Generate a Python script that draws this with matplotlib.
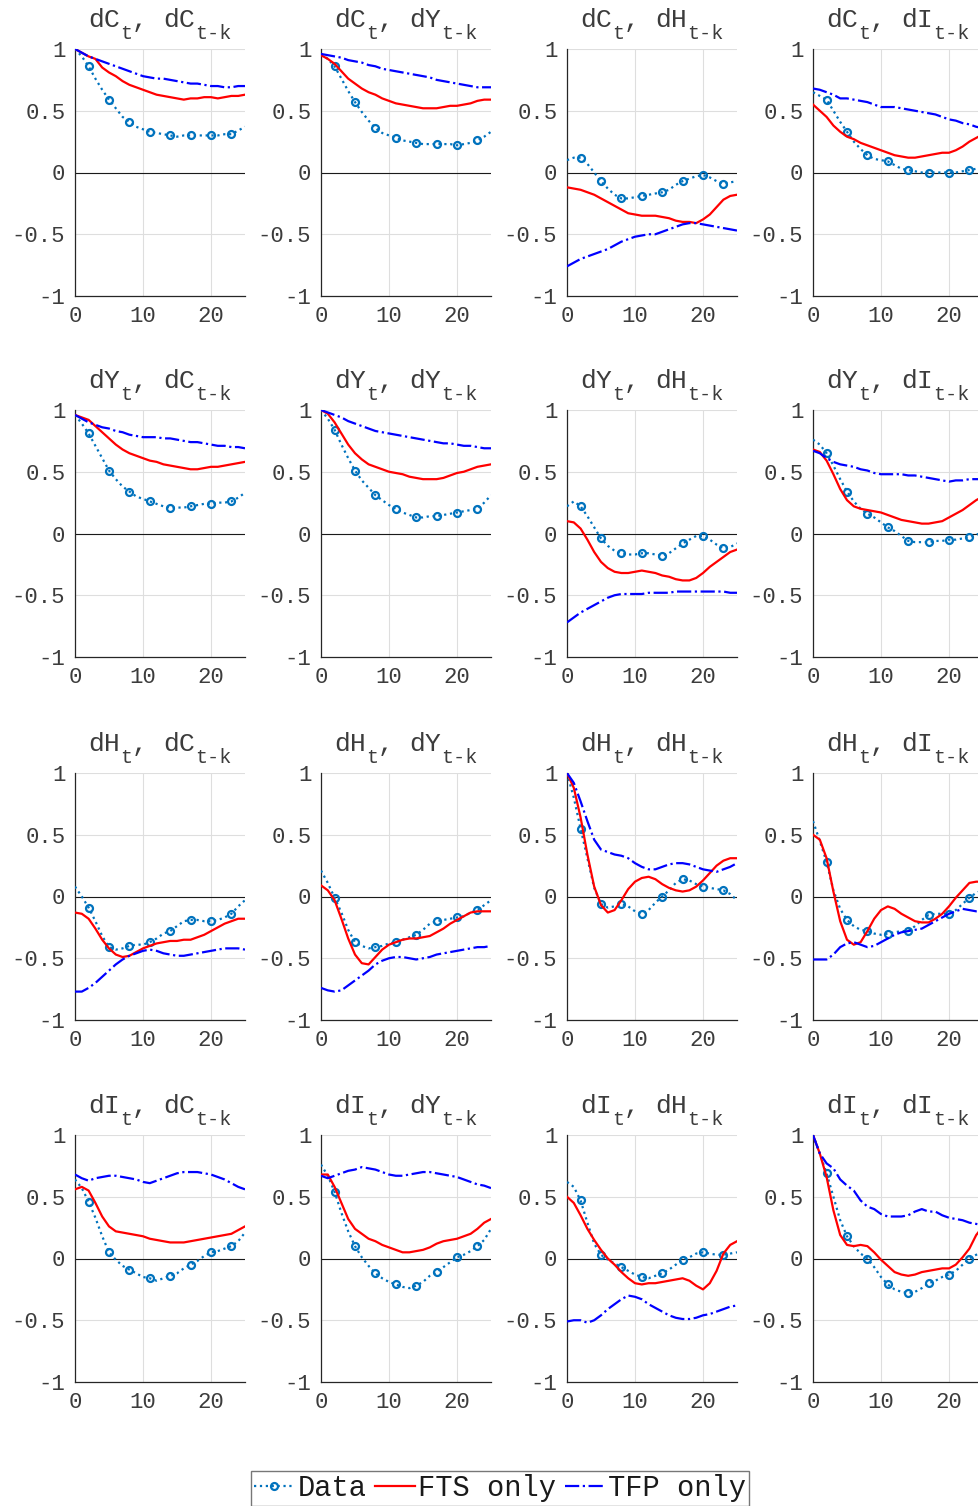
import numpy as np
import matplotlib.pyplot as plt

# ----------------------------------------------------
# DATA (cross-correlations, lags 0..25)
# ----------------------------------------------------
lags = np.arange(26)
var_names = ["C", "Y", "H", "I"]
series_labels = ["Data", "FTS only", "TFP only"]

# row 1: dC_t
data_CC = [1.0, 0.94, 0.86, 0.76, 0.67, 0.59, 0.52, 0.45, 0.41, 0.37, 0.35, 0.33, 0.32, 0.31, 0.30, 0.29, 0.30, 0.30, 0.30, 0.30, 0.30, 0.30, 0.31, 0.31, 0.34, 0.37]
fts_CC = [1.0, 0.97, 0.94, 0.92, 0.85, 0.81, 0.78, 0.74, 0.71, 0.69, 0.67, 0.65, 0.63, 0.62, 0.61, 0.60, 0.59, 0.60, 0.60, 0.61, 0.61, 0.60, 0.61, 0.62, 0.62, 0.63]
tfp_CC = [1.0, 0.97, 0.94, 0.92, 0.90, 0.88, 0.86, 0.84, 0.82, 0.80, 0.78, 0.77, 0.76, 0.76, 0.75, 0.74, 0.73, 0.72, 0.72, 0.71, 0.70, 0.70, 0.69, 0.69, 0.70, 0.70]

data_CY = [0.96, 0.92, 0.86, 0.76, 0.66, 0.57, 0.49, 0.42, 0.36, 0.32, 0.30, 0.28, 0.26, 0.25, 0.24, 0.23, 0.23, 0.23, 0.23, 0.23, 0.22, 0.23, 0.24, 0.26, 0.29, 0.33]
fts_CY = [0.95, 0.92, 0.88, 0.82, 0.76, 0.72, 0.68, 0.65, 0.63, 0.60, 0.58, 0.56, 0.55, 0.54, 0.53, 0.52, 0.52, 0.52, 0.53, 0.54, 0.54, 0.55, 0.56, 0.58, 0.59, 0.59]
tfp_CY = [0.96, 0.95, 0.94, 0.93, 0.91, 0.90, 0.89, 0.87, 0.86, 0.84, 0.83, 0.82, 0.81, 0.80, 0.79, 0.78, 0.77, 0.75, 0.74, 0.73, 0.72, 0.71, 0.70, 0.69, 0.69, 0.69]

data_CH = [0.10, 0.12, 0.12, 0.07, 0.00, -0.07, -0.13, -0.18, -0.21, -0.21, -0.20, -0.19, -0.18, -0.17, -0.16, -0.14, -0.10, -0.07, -0.05, -0.03, -0.02, -0.04, -0.07, -0.09, -0.08, -0.07]
fts_CH = [-0.12, -0.13, -0.14, -0.16, -0.18, -0.21, -0.24, -0.27, -0.30, -0.33, -0.34, -0.35, -0.35, -0.35, -0.36, -0.37, -0.39, -0.40, -0.40, -0.41, -0.38, -0.34, -0.28, -0.22, -0.19, -0.18]
tfp_CH = [-0.76, -0.73, -0.70, -0.68, -0.66, -0.64, -0.62, -0.59, -0.56, -0.54, -0.52, -0.51, -0.50, -0.50, -0.48, -0.46, -0.44, -0.42, -0.41, -0.41, -0.42, -0.43, -0.44, -0.45, -0.46, -0.47]

data_CI = [0.65, 0.62, 0.59, 0.50, 0.41, 0.33, 0.25, 0.19, 0.14, 0.11, 0.10, 0.09, 0.06, 0.03, 0.02, 0.01, 0.00, 0.00, 0.00, 0.00, 0.00, 0.00, 0.01, 0.02, 0.03, 0.04]
fts_CI = [0.55, 0.50, 0.45, 0.38, 0.33, 0.29, 0.27, 0.24, 0.22, 0.20, 0.18, 0.16, 0.14, 0.13, 0.12, 0.12, 0.13, 0.14, 0.15, 0.16, 0.16, 0.18, 0.21, 0.25, 0.28, 0.31]
tfp_CI = [0.68, 0.67, 0.65, 0.63, 0.60, 0.60, 0.59, 0.58, 0.57, 0.55, 0.53, 0.53, 0.53, 0.52, 0.51, 0.50, 0.49, 0.48, 0.47, 0.45, 0.43, 0.42, 0.40, 0.39, 0.37, 0.36]

# row 2: dY_t
data_YC = [0.96, 0.89, 0.81, 0.71, 0.61, 0.51, 0.44, 0.38, 0.34, 0.30, 0.28, 0.26, 0.24, 0.22, 0.21, 0.21, 0.21, 0.22, 0.23, 0.24, 0.24, 0.25, 0.25, 0.26, 0.29, 0.33]
fts_YC = [0.96, 0.94, 0.92, 0.87, 0.82, 0.77, 0.72, 0.68, 0.65, 0.63, 0.61, 0.59, 0.58, 0.56, 0.55, 0.54, 0.53, 0.52, 0.52, 0.53, 0.54, 0.54, 0.55, 0.56, 0.57, 0.58]
tfp_YC = [0.96, 0.93, 0.90, 0.88, 0.86, 0.85, 0.83, 0.82, 0.80, 0.79, 0.78, 0.78, 0.78, 0.77, 0.77, 0.76, 0.75, 0.74, 0.74, 0.73, 0.72, 0.71, 0.71, 0.70, 0.70, 0.69]

data_YY = [1.0, 0.93, 0.84, 0.72, 0.61, 0.51, 0.43, 0.37, 0.31, 0.27, 0.23, 0.20, 0.17, 0.15, 0.13, 0.13, 0.14, 0.14, 0.15, 0.16, 0.17, 0.18, 0.19, 0.20, 0.25, 0.31]
fts_YY = [1.0, 0.97, 0.90, 0.81, 0.72, 0.65, 0.60, 0.56, 0.54, 0.52, 0.50, 0.49, 0.48, 0.46, 0.45, 0.44, 0.44, 0.44, 0.45, 0.47, 0.49, 0.50, 0.52, 0.54, 0.55, 0.56]
tfp_YY = [1.0, 0.98, 0.96, 0.94, 0.91, 0.89, 0.87, 0.85, 0.83, 0.82, 0.81, 0.80, 0.79, 0.78, 0.77, 0.76, 0.75, 0.74, 0.73, 0.73, 0.72, 0.71, 0.71, 0.70, 0.69, 0.69]

data_YH = [0.22, 0.26, 0.22, 0.14, 0.05, -0.04, -0.10, -0.14, -0.16, -0.17, -0.17, -0.16, -0.16, -0.17, -0.18, -0.16, -0.12, -0.08, -0.05, -0.02, -0.02, -0.05, -0.09, -0.12, -0.11, -0.08]
fts_YH = [0.10, 0.09, 0.04, -0.05, -0.15, -0.23, -0.28, -0.31, -0.32, -0.32, -0.31, -0.30, -0.31, -0.32, -0.34, -0.35, -0.37, -0.38, -0.38, -0.36, -0.32, -0.27, -0.23, -0.19, -0.15, -0.13]
tfp_YH = [-0.72, -0.68, -0.64, -0.61, -0.58, -0.55, -0.52, -0.50, -0.49, -0.49, -0.49, -0.49, -0.48, -0.48, -0.48, -0.48, -0.47, -0.47, -0.47, -0.47, -0.47, -0.47, -0.47, -0.47, -0.48, -0.48]

data_YI = [0.76, 0.72, 0.65, 0.55, 0.44, 0.34, 0.26, 0.20, 0.16, 0.13, 0.09, 0.05, 0.02, -0.02, -0.06, -0.07, -0.07, -0.07, -0.06, -0.06, -0.05, -0.05, -0.04, -0.03, -0.01, 0.01]
fts_YI = [0.68, 0.66, 0.59, 0.48, 0.36, 0.27, 0.22, 0.20, 0.19, 0.18, 0.17, 0.15, 0.13, 0.11, 0.10, 0.09, 0.08, 0.08, 0.09, 0.10, 0.13, 0.16, 0.19, 0.23, 0.27, 0.30]
tfp_YI = [0.67, 0.65, 0.61, 0.58, 0.56, 0.55, 0.54, 0.52, 0.51, 0.49, 0.48, 0.48, 0.48, 0.48, 0.47, 0.47, 0.46, 0.45, 0.44, 0.43, 0.42, 0.43, 0.43, 0.44, 0.44, 0.44]

# row 3: dH_t
data_HC = [0.08, 0.00, -0.09, -0.20, -0.32, -0.41, -0.43, -0.42, -0.40, -0.39, -0.39, -0.37, -0.34, -0.30, -0.28, -0.24, -0.20, -0.19, -0.19, -0.20, -0.20, -0.19, -0.17, -0.14, -0.08, -0.03]
fts_HC = [-0.13, -0.14, -0.18, -0.26, -0.35, -0.42, -0.47, -0.49, -0.48, -0.45, -0.42, -0.40, -0.38, -0.37, -0.36, -0.36, -0.35, -0.35, -0.33, -0.31, -0.28, -0.25, -0.22, -0.20, -0.18, -0.18]
tfp_HC = [-0.77, -0.77, -0.74, -0.70, -0.65, -0.60, -0.55, -0.51, -0.48, -0.46, -0.44, -0.43, -0.44, -0.46, -0.47, -0.48, -0.48, -0.47, -0.46, -0.45, -0.44, -0.43, -0.42, -0.42, -0.42, -0.43]

data_HY = [0.21, 0.11, -0.01, -0.13, -0.27, -0.37, -0.40, -0.42, -0.41, -0.40, -0.38, -0.37, -0.35, -0.33, -0.31, -0.27, -0.22, -0.20, -0.19, -0.18, -0.17, -0.16, -0.13, -0.11, -0.07, -0.03]
fts_HY = [0.09, 0.05, -0.03, -0.18, -0.34, -0.47, -0.54, -0.55, -0.49, -0.43, -0.39, -0.37, -0.35, -0.34, -0.34, -0.33, -0.32, -0.29, -0.26, -0.22, -0.19, -0.16, -0.13, -0.12, -0.12, -0.12]
tfp_HY = [-0.74, -0.76, -0.77, -0.76, -0.72, -0.68, -0.64, -0.60, -0.55, -0.52, -0.50, -0.49, -0.49, -0.50, -0.51, -0.50, -0.49, -0.47, -0.46, -0.45, -0.44, -0.43, -0.42, -0.41, -0.41, -0.40]

data_HH = [1.0, 0.80, 0.55, 0.31, 0.07, -0.06, -0.09, -0.08, -0.06, -0.08, -0.12, -0.14, -0.11, -0.05, 0.00, 0.05, 0.11, 0.14, 0.13, 0.10, 0.08, 0.07, 0.06, 0.05, 0.02, -0.03]
fts_HH = [1.0, 0.88, 0.64, 0.34, 0.08, -0.07, -0.13, -0.11, -0.03, 0.06, 0.12, 0.15, 0.16, 0.14, 0.10, 0.07, 0.05, 0.04, 0.05, 0.08, 0.13, 0.19, 0.25, 0.29, 0.31, 0.31]
tfp_HH = [1.0, 0.92, 0.77, 0.61, 0.46, 0.38, 0.36, 0.34, 0.33, 0.31, 0.27, 0.24, 0.22, 0.22, 0.24, 0.26, 0.27, 0.27, 0.26, 0.24, 0.22, 0.21, 0.20, 0.22, 0.24, 0.27]

data_HI = [0.61, 0.45, 0.28, 0.05, -0.10, -0.19, -0.24, -0.27, -0.28, -0.30, -0.31, -0.30, -0.29, -0.28, -0.28, -0.24, -0.19, -0.15, -0.14, -0.14, -0.14, -0.11, -0.06, -0.01, 0.03, 0.05]
fts_HI = [0.50, 0.46, 0.31, 0.04, -0.20, -0.35, -0.39, -0.37, -0.28, -0.18, -0.11, -0.08, -0.10, -0.14, -0.17, -0.20, -0.21, -0.21, -0.18, -0.14, -0.08, -0.01, 0.05, 0.11, 0.12, 0.12]
tfp_HI = [-0.51, -0.51, -0.51, -0.47, -0.41, -0.38, -0.37, -0.39, -0.41, -0.40, -0.37, -0.34, -0.31, -0.29, -0.28, -0.27, -0.26, -0.23, -0.20, -0.17, -0.14, -0.12, -0.10, -0.11, -0.12, -0.12]

# row 4: dI_t
data_IC = [0.64, 0.57, 0.46, 0.33, 0.18, 0.05, -0.01, -0.06, -0.09, -0.12, -0.15, -0.16, -0.18, -0.16, -0.14, -0.12, -0.08, -0.05, -0.02, 0.02, 0.05, 0.06, 0.08, 0.10, 0.14, 0.21]
fts_IC = [0.56, 0.58, 0.55, 0.45, 0.34, 0.26, 0.22, 0.21, 0.20, 0.19, 0.18, 0.16, 0.15, 0.14, 0.13, 0.13, 0.13, 0.14, 0.15, 0.16, 0.17, 0.18, 0.19, 0.20, 0.23, 0.26]
tfp_IC = [0.68, 0.65, 0.63, 0.65, 0.66, 0.67, 0.67, 0.66, 0.65, 0.64, 0.62, 0.61, 0.63, 0.65, 0.67, 0.69, 0.70, 0.70, 0.70, 0.69, 0.68, 0.66, 0.64, 0.61, 0.58, 0.56]

data_IY = [0.76, 0.67, 0.54, 0.37, 0.22, 0.10, 0.01, -0.06, -0.12, -0.16, -0.19, -0.21, -0.23, -0.24, -0.22, -0.19, -0.14, -0.11, -0.07, -0.03, 0.01, 0.03, 0.06, 0.10, 0.15, 0.24]
fts_IY = [0.68, 0.68, 0.58, 0.45, 0.32, 0.24, 0.20, 0.16, 0.14, 0.11, 0.09, 0.07, 0.05, 0.05, 0.06, 0.07, 0.09, 0.12, 0.14, 0.15, 0.16, 0.18, 0.20, 0.24, 0.29, 0.32]
tfp_IY = [0.67, 0.65, 0.67, 0.69, 0.71, 0.72, 0.74, 0.73, 0.72, 0.70, 0.68, 0.67, 0.67, 0.68, 0.69, 0.70, 0.70, 0.69, 0.68, 0.67, 0.66, 0.64, 0.62, 0.60, 0.59, 0.57]

data_IH = [0.62, 0.58, 0.47, 0.29, 0.12, 0.03, -0.01, -0.04, -0.07, -0.10, -0.13, -0.15, -0.16, -0.14, -0.12, -0.09, -0.05, -0.01, 0.01, 0.04, 0.05, 0.04, 0.03, 0.03, 0.04, 0.05]
fts_IH = [0.50, 0.45, 0.35, 0.24, 0.15, 0.07, 0.00, -0.05, -0.11, -0.16, -0.20, -0.21, -0.20, -0.20, -0.19, -0.18, -0.17, -0.16, -0.18, -0.22, -0.25, -0.20, -0.10, 0.04, 0.11, 0.14]
tfp_IH = [-0.51, -0.50, -0.50, -0.52, -0.50, -0.46, -0.41, -0.37, -0.33, -0.30, -0.31, -0.33, -0.37, -0.40, -0.43, -0.46, -0.48, -0.49, -0.49, -0.48, -0.46, -0.45, -0.43, -0.41, -0.39, -0.38]

data_II = [1.0, 0.85, 0.69, 0.50, 0.31, 0.18, 0.10, 0.04, 0.00, -0.07, -0.15, -0.21, -0.25, -0.27, -0.28, -0.27, -0.24, -0.20, -0.18, -0.15, -0.13, -0.10, -0.05, 0.00, 0.03, 0.06]
fts_II = [1.0, 0.85, 0.66, 0.39, 0.19, 0.11, 0.10, 0.11, 0.10, 0.05, -0.01, -0.06, -0.11, -0.13, -0.14, -0.13, -0.11, -0.10, -0.09, -0.08, -0.08, -0.05, 0.01, 0.08, 0.19, 0.26]
tfp_II = [1.0, 0.85, 0.77, 0.73, 0.64, 0.59, 0.55, 0.47, 0.42, 0.40, 0.36, 0.34, 0.34, 0.34, 0.35, 0.38, 0.40, 0.38, 0.38, 0.35, 0.33, 0.32, 0.31, 0.29, 0.28, 0.27]

data_all = [[data_CC, data_CY, data_CH, data_CI],
            [data_YC, data_YY, data_YH, data_YI],
            [data_HC, data_HY, data_HH, data_HI],
            [data_IC, data_IY, data_IH, data_II]]
fts_all = [[fts_CC, fts_CY, fts_CH, fts_CI],
           [fts_YC, fts_YY, fts_YH, fts_YI],
           [fts_HC, fts_HY, fts_HH, fts_HI],
           [fts_IC, fts_IY, fts_IH, fts_II]]
tfp_all = [[tfp_CC, tfp_CY, tfp_CH, tfp_CI],
           [tfp_YC, tfp_YY, tfp_YH, tfp_YI],
           [tfp_HC, tfp_HY, tfp_HH, tfp_HI],
           [tfp_IC, tfp_IY, tfp_IH, tfp_II]]

# ----------------------------------------------------
# STYLE
# ----------------------------------------------------
plt.rcParams['font.family'] = ['Liberation Mono', 'DejaVu Sans Mono']
plt.rcParams['axes.unicode_minus'] = False

AX_COLOR = "#262626"
TXT_COLOR = "#3c3c3c"
DATA_COLOR = "#0072BD"

TITLE_SIZE = 19     # main title characters
SUB_SIZE = 14.5     # subscript characters
CHAR = 0.6          # monospace advance, in em


def add_title(ax, a, b):
    # MATLAB-style "dA_t, dB_{t-k}" built from monospace pieces
    big, small = CHAR * TITLE_SIZE, CHAR * SUB_SIZE
    x0 = -(6 * big + 4 * small) / 2
    base, sub = 16, 7
    pieces = [
        ("d" + a, TITLE_SIZE, x0 + big, base),
        ("t", SUB_SIZE, x0 + 2 * big + small / 2, sub),
        (",", TITLE_SIZE, x0 + 2 * big + small + big / 2, base),
        ("d" + b, TITLE_SIZE, x0 + 4 * big + small + big, base),
        ("t-k", SUB_SIZE, x0 + 6 * big + small + 1.5 * small, sub),
    ]
    for s, size, dx, dy in pieces:
        ax.annotate(s, xy=(0.5, 1), xycoords="axes fraction",
                    xytext=(dx, dy), textcoords="offset points",
                    ha="center", va="baseline", fontsize=size, color=TXT_COLOR,
                    annotation_clip=False)


# ----------------------------------------------------
# PLOT
# ----------------------------------------------------
W, H = 979, 1506
fig = plt.figure(figsize=(W / 100, H / 100), dpi=100)

col_left = [75, 321, 567, 813]
row_top = [49, 410, 773, 1135]
ax_w, ax_h = 170, 247

handles = None
for i in range(4):
    for j in range(4):
        ax = fig.add_axes([col_left[j] / W, 1 - (row_top[i] + ax_h) / H, ax_w / W, ax_h / H])

        ax.axhline(0, color="#1a1a1a", lw=0.8, zorder=1)
        h1, = ax.plot(lags, data_all[i][j], ls=":", color=DATA_COLOR, lw=1.6,
                      marker="o", ms=5, mfc="none", mew=1.6, markevery=(2, 3), zorder=3)
        h2, = ax.plot(lags, fts_all[i][j], ls="-", color="red", lw=1.6, zorder=3)
        h3, = ax.plot(lags, tfp_all[i][j], ls="-.", color="blue", lw=1.6, zorder=3)
        if handles is None:
            handles = [h1, h2, h3]

        ax.set_xlim(0, 25)
        ax.set_ylim(-1, 1)
        ax.set_xticks([0, 10, 20])
        ax.set_yticks([-1, -0.5, 0, 0.5, 1])
        ax.set_yticklabels(["-1", "-0.5", "0", "0.5", "1"])
        ax.tick_params(labelsize=16, labelcolor=TXT_COLOR, color=AX_COLOR,
                       direction="in", length=0, pad=7)
        ax.grid(True, color="#dedede", lw=0.8)
        ax.set_axisbelow(True)
        for s in ["top", "right"]:
            ax.spines[s].set_visible(False)
        for s in ["left", "bottom"]:
            ax.spines[s].set_color(AX_COLOR)
            ax.spines[s].set_linewidth(0.9)

        add_title(ax, var_names[i], var_names[j])

leg = fig.legend(handles, series_labels, loc="upper center",
                 bbox_to_anchor=(500 / W, 1 - 1471 / H), ncol=3, fontsize=20.7,
                 frameon=True, fancybox=False, edgecolor="#555555",
                 handlelength=1.4, handletextpad=0.1, columnspacing=0.3,
                 borderpad=0.12, borderaxespad=0)
leg.get_frame().set_linewidth(1.0)
for t in leg.get_texts():
    t.set_color("#1a1a1a")

plt.savefig("out.png", dpi=100)
